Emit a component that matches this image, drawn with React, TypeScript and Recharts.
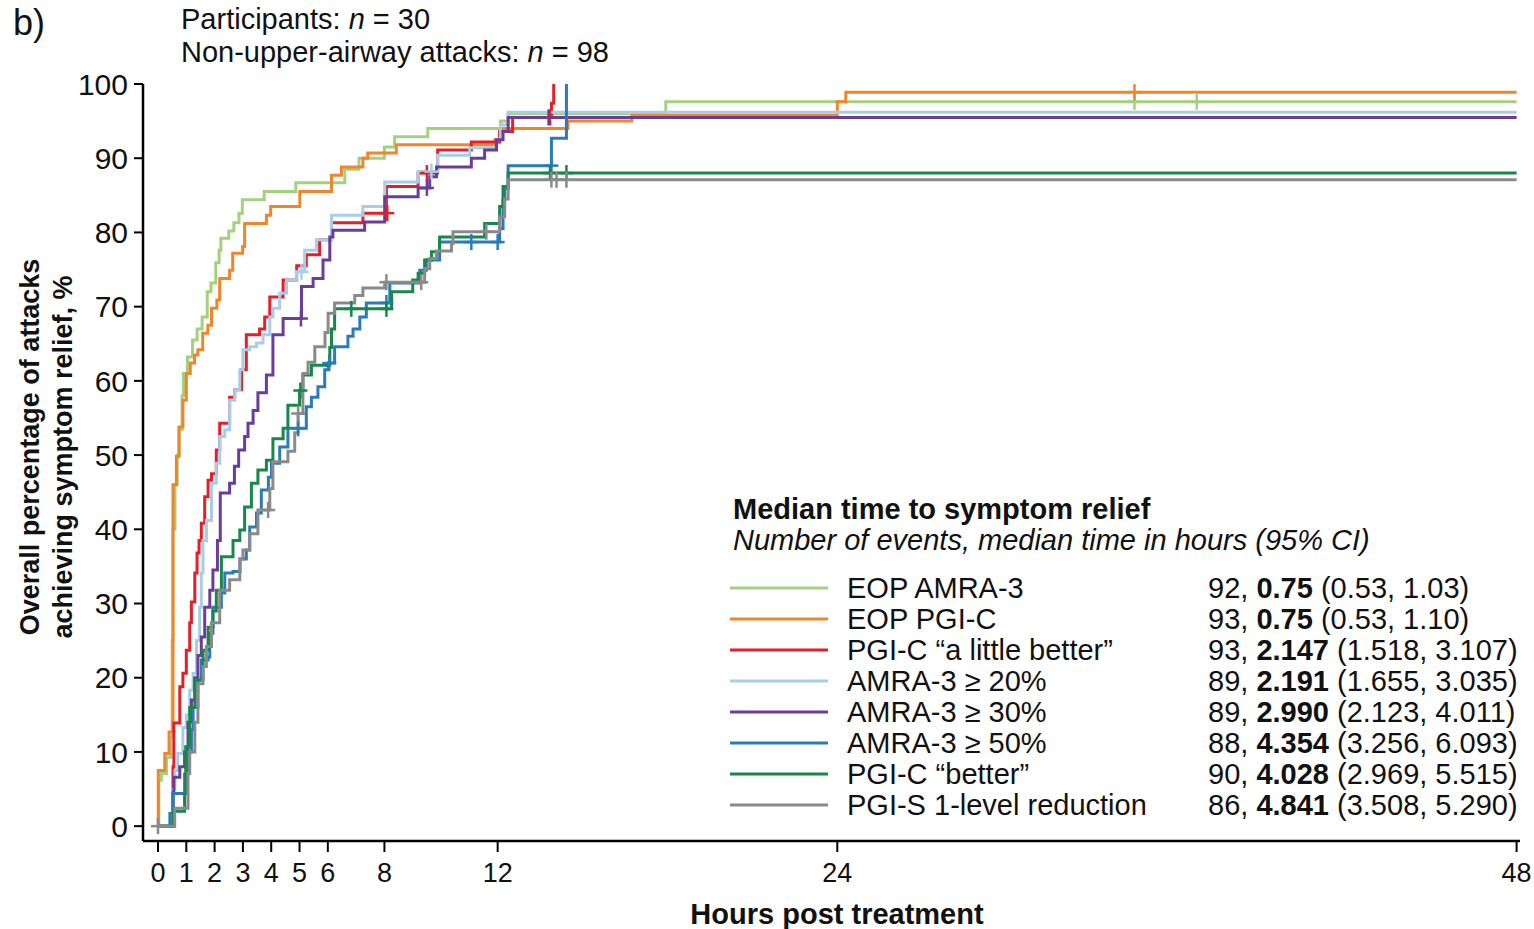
import React from 'react'
import { Line, LineChart, XAxis, YAxis } from 'recharts'

type Pt = [number, number]

// Kaplan-Meier step points: [hours post treatment, cumulative % with relief]
const eopAmra3: Pt[] = [
  [0, 0], [0.03, 6.2], [0.12, 7.1], [0.3, 9.3], [0.45, 12], [0.5, 25], [0.53, 40], [0.6, 46],
  [0.68, 50], [0.75, 53.4], [0.85, 58], [0.9, 61], [1.04, 63.2], [1.22, 65.5], [1.38, 67],
  [1.56, 68.6], [1.74, 72], [1.87, 73.2], [2.04, 75.9], [2.16, 77.6], [2.22, 79.2], [2.5, 80.2],
  [2.68, 81.3], [2.86, 82.6], [2.98, 84.4], [3.75, 85.5], [4.87, 86.7], [6.6, 88.5], [7.1, 90],
  [8.0, 91.5], [8.36, 92.9], [9.53, 94], [12.1, 95], [12.37, 96], [17.94, 97.6], [48, 97.6],
]
const eopPgic: Pt[] = [
  [0, 0], [0.01, 7.5], [0.24, 9.8], [0.39, 12.7], [0.53, 46], [0.65, 49.8], [0.74, 53.8],
  [0.88, 57.4], [1.0, 61], [1.14, 62.4], [1.29, 63.5], [1.41, 64.2], [1.58, 66.4], [1.76, 67.5],
  [1.89, 69.8], [2.08, 70.9], [2.18, 73.8], [2.53, 74.9], [2.64, 77.2], [2.99, 78.1], [3.06, 81.2],
  [3.83, 82.3], [3.98, 83.5], [5.01, 85.5], [6.13, 87.7], [6.48, 88.8], [7.24, 90], [7.41, 90.7],
  [8.42, 91.8], [11.9, 92.5], [12.13, 94], [14.48, 95], [16.74, 95.8], [24.0, 97.6], [24.3, 98.9],
  [48, 98.9],
]
const pgicLittleBetter: Pt[] = [
  [0, 0], [0.53, 8], [0.56, 13.9], [0.77, 18.8], [0.88, 20.6], [1.0, 23.7], [1.12, 27.4],
  [1.18, 30.2], [1.3, 34.1], [1.38, 36.8], [1.45, 38.5], [1.53, 40.8], [1.65, 44.4], [1.77, 46.6],
  [1.89, 47.5], [2.06, 50.7], [2.18, 54.3], [2.53, 57.8], [2.71, 58.8], [2.95, 61.5], [3.12, 66.2],
  [3.59, 67], [3.77, 68.6], [3.95, 71.3], [4.42, 73.6], [4.9, 75.5], [5.24, 77], [5.71, 79],
  [6.13, 81.3], [7.24, 82.6], [8.07, 86.2], [9.19, 88], [9.88, 91.1], [11.07, 92.2], [12.07, 93.6],
  [12.53, 95.5], [13.9, 97.4], [13.98, 100],
]
const amra20: Pt[] = [
  [0, 0], [0.53, 5], [0.6, 7.5], [0.7, 9.8], [0.88, 13.3], [1.0, 15], [1.12, 18.3], [1.24, 20.6],
  [1.36, 25], [1.47, 29.5], [1.53, 34.1], [1.59, 38.5], [1.71, 41.2], [1.89, 46.2], [2.06, 48.9],
  [2.18, 52.5], [2.36, 53.4], [2.53, 57.4], [2.71, 58.8], [2.89, 61.5], [3.0, 64.2], [3.24, 64.6],
  [3.48, 65.1], [3.71, 66.2], [3.95, 68.6], [4.06, 69.8], [4.3, 71.8], [4.54, 73.6], [4.89, 74.7],
  [5.18, 77.6], [5.6, 79], [6.13, 82.3], [7.24, 83.5], [8.01, 86.8], [9.19, 88.2], [9.88, 90.4],
  [11.01, 91.4], [11.96, 92.5], [12.1, 94.5], [12.37, 96.2], [48, 96.2],
]
const amra30: Pt[] = [
  [0, 0], [0.53, 4.5], [0.56, 6.6], [0.77, 8], [0.94, 10], [1.06, 14], [1.18, 17], [1.3, 20],
  [1.41, 23], [1.53, 25.5], [1.65, 29.5], [1.83, 31.8], [1.94, 34.5], [2.1, 38.5], [2.2, 44.9],
  [2.53, 46.2], [2.7, 48.5], [2.85, 50.7], [3.06, 52.5], [3.18, 54.3], [3.36, 56], [3.53, 58.4],
  [3.83, 60.8], [4.06, 66.2], [4.42, 68.4], [5.07, 72.7], [5.48, 73.8], [5.83, 76.3], [6.07, 79.4],
  [6.18, 80.3], [7.3, 81.4], [8.01, 84.8], [9.19, 86], [9.6, 87.5], [9.84, 88.8], [11.07, 90],
  [11.54, 91.1], [11.96, 92.5], [12.19, 93.6], [12.37, 95.5], [48, 95.5],
]
const amra50: Pt[] = [
  [0, 0], [0.42, 1.7], [0.53, 4.4], [0.94, 7], [1.06, 10], [1.18, 13], [1.24, 16], [1.41, 19.7],
  [1.53, 22.4], [1.77, 22.8], [1.83, 26], [1.94, 29.5], [2.24, 31.4], [2.36, 34.1], [2.65, 34.3],
  [2.9, 36], [3.12, 37.2], [3.24, 40.3], [3.48, 42.2], [3.65, 45.3], [3.9, 47], [4.01, 48.9],
  [4.3, 51.1], [4.59, 53.6], [5.24, 56.5], [5.42, 57.8], [5.65, 59.2], [5.89, 61.5], [6.01, 62.4],
  [6.24, 64.6], [6.71, 66], [6.89, 67], [7.13, 68.6], [7.36, 70.5], [8.19, 73.2], [9.25, 74.9],
  [9.48, 76.3], [9.95, 78.7], [12.07, 80.5], [12.19, 84.4], [12.25, 85.9], [12.37, 89],
  [13.9, 92.7], [14.43, 100],
]
const pgicBetter: Pt[] = [
  [0, 0], [0.55, 2], [0.94, 4.4], [0.98, 10.7], [1.12, 16], [1.3, 19.7], [1.59, 23.7], [1.77, 26.8],
  [1.94, 29], [2.06, 31.8], [2.24, 36.3], [2.65, 38.5], [2.89, 39.9], [3.06, 43], [3.3, 46.2],
  [3.53, 48], [3.83, 49.3], [4.06, 52.2], [4.42, 53.6], [4.59, 56.7], [5.0, 58.7], [5.12, 60.8],
  [5.42, 62.1], [6.07, 64.5], [6.13, 67], [6.24, 69.7], [8.25, 72], [9.0, 73.6], [9.19, 74.5],
  [9.42, 76.3], [9.66, 77.4], [9.95, 79.4], [11.54, 81.2], [12.07, 83.5], [12.19, 86.2],
  [12.37, 88], [48, 88],
]
const pgis1Level: Pt[] = [
  [0, 0], [0.59, 2.4], [1.06, 7.1], [1.12, 10], [1.3, 14], [1.41, 19.2], [1.59, 21.5], [1.71, 24.2],
  [1.89, 27.4], [2.18, 31.8], [2.53, 33.2], [2.89, 36], [3.0, 37.2], [3.24, 39.4], [3.53, 42.6],
  [3.95, 45.5], [4.06, 49.1], [4.59, 50.5], [4.83, 53], [4.95, 55.6], [5.12, 61], [5.3, 62.5],
  [5.54, 64.6], [5.9, 66.5], [6.01, 69.1], [6.24, 70.5], [6.95, 71.5], [7.24, 72.5], [8.01, 73.3],
  [9.42, 75.1], [9.6, 76.5], [9.84, 77.5], [10.37, 78.5], [10.42, 80.1], [12.07, 82.1],
  [12.25, 84.5], [12.37, 87.1], [48, 87.1],
]

// censored observations (+)
const eopAmra3Cens: Pt[] = [[34.5, 97.6], [36.7, 97.6]]
const eopPgicCens: Pt[] = [[34.5, 98.9]]
const pgicLittleBetterCens: Pt[] = [[8.1, 82.6], [9.5, 88], [13.85, 95.5]]
const amra20Cens: Pt[] = [[5.07, 74.7], [9.66, 88.2]]
const amra30Cens: Pt[] = [[5.05, 68.4], [9.5, 86], [13.8, 95.5]]
const amra50Cens: Pt[] = [[4.95, 53.6], [6.05, 62.4], [8.07, 70.5], [11.07, 78.7], [12.0, 78.7], [13.9, 89]]
const pgicBetterCens: Pt[] = [[5.03, 58.7], [6.83, 69.7], [8.07, 69.7], [13.85, 88], [14.43, 88]]
const pgis1LevelCens: Pt[] = [
  [0, 0], [3.89, 42.6], [4.95, 55.6], [8.07, 73.3], [9.3, 73.3], [11.6, 80.1], [13.9, 87.1],
  [14.08, 87.1], [14.43, 87.1],
]

const seriesNames = [
  'EOP AMRA-3',
  'EOP PGI-C',
  'PGI-C \u201ca little better\u201d',
  'AMRA-3 \u2265 20%',
  'AMRA-3 \u2265 30%',
  'AMRA-3 \u2265 50%',
  'PGI-C \u201cbetter\u201d',
  'PGI-S 1-level reduction',
]
const seriesColors = ['#a5d17f', '#f0862c', '#e2202a', '#a9cde6', '#6b3d9b', '#2b7bbb', '#16884a', '#8a8a8a']
const seriesPoints = [eopAmra3, eopPgic, pgicLittleBetter, amra20, amra30, amra50, pgicBetter, pgis1Level]
const seriesCensored = [
  eopAmra3Cens, eopPgicCens, pgicLittleBetterCens, amra20Cens,
  amra30Cens, amra50Cens, pgicBetterCens, pgis1LevelCens,
]
const eventCounts = [92, 93, 93, 89, 89, 88, 90, 86]
const medians = ['0.75', '0.75', '2.147', '2.191', '2.990', '4.354', '4.028', '4.841']
const medianCIs = [
  '(0.53, 1.03)', '(0.53, 1.10)', '(1.518, 3.107)', '(1.655, 3.035)',
  '(2.123, 4.011)', '(3.256, 6.093)', '(2.969, 5.515)', '(3.508, 5.290)',
]

const xTicks = [0, 1, 2, 3, 4, 5, 6, 8, 12, 24, 48]
const yTicks = [0, 10, 20, 30, 40, 50, 60, 70, 80, 90, 100]

const W = 1534
const H = 929
const FONT = '"Liberation Sans", Arial, Helvetica, sans-serif'

const toRows = (pts: Pt[]) => pts.map(([t, v]) => ({ t, v }))

function PlusMark({ cx, cy, color }: { cx?: number; cy?: number; color: string }) {
  if (cx == null || cy == null) return null
  return (
    <g>
      <line x1={cx - 7} x2={cx + 7} y1={cy} y2={cy} stroke={color} strokeWidth={2.5} />
      <line x1={cx} x2={cx} y1={cy - 8} y2={cy + 8} stroke={color} strokeWidth={2.5} />
    </g>
  )
}

function Overlay() {
  const rowY = (i: number) => 588 + i * 31
  return (
    <svg
      width={W}
      height={H}
      style={{ position: 'absolute', left: 0, top: 0, pointerEvents: 'none' }}
      fontFamily={FONT}
      fill='#111'
    >
      <text x={13} y={35} fontSize={36}>b)</text>
      <text x={181} y={29} fontSize={29}>
        Participants: <tspan fontStyle='italic'>n</tspan> = 30
      </text>
      <text x={181} y={62} fontSize={29}>
        Non-upper-airway attacks: <tspan fontStyle='italic'>n</tspan> = 98
      </text>

      <g fontWeight='bold' textAnchor='middle'>
        <text fontSize={27} transform='translate(39,447) rotate(-90)'>Overall percentage of attacks</text>
        <text fontSize={27} transform='translate(72,457) rotate(-90)'>achieving symptom relief, %</text>
        <text fontSize={29} x={837} y={924}>Hours post treatment</text>
      </g>

      <text x={733} y={519} fontSize={29} fontWeight='bold'>Median time to symptom relief</text>
      <text x={733} y={550} fontSize={29} fontStyle='italic'>
        Number of events, median time in hours (95% CI)
      </text>
      {seriesNames.map((name, i) => (
        <g key={name}>
          <line x1={730} x2={828} y1={rowY(i)} y2={rowY(i)} stroke={seriesColors[i]} strokeWidth={3} />
          <text x={847} y={rowY(i) + 10} fontSize={29}>{name}</text>
          <text x={1208} y={rowY(i) + 10} fontSize={29}>
            {eventCounts[i]}, <tspan fontWeight='bold'>{medians[i]}</tspan> {medianCIs[i]}
          </text>
        </g>
      ))}
    </svg>
  )
}

export default function App() {
  return (
    <div style={{ position: 'absolute', left: 0, top: 0, width: W, height: H, background: '#fff' }}>
      <LineChart width={W} height={H} margin={{ top: 84, right: 14, left: 73, bottom: 48 }}>
        <XAxis
          type='number'
          dataKey='t'
          domain={[-0.53, 48.12]}
          ticks={xTicks}
          interval={0}
          allowDataOverflow
          height={40}
          tickSize={11}
          tickMargin={11}
          axisLine={{ stroke: '#000', strokeWidth: 2.5 }}
          tickLine={{ stroke: '#000', strokeWidth: 2 }}
          tick={{ fill: '#111', fontSize: 27, fontFamily: FONT }}
        />
        <YAxis
          type='number'
          dataKey='v'
          domain={[-2, 100]}
          ticks={yTicks}
          interval={0}
          allowDataOverflow
          width={70}
          tickSize={9}
          tickMargin={6}
          axisLine={{ stroke: '#000', strokeWidth: 2.5 }}
          tickLine={{ stroke: '#000', strokeWidth: 2 }}
          tick={{ fill: '#111', fontSize: 30, fontFamily: FONT }}
        />
        {seriesNames.map((name, i) => (
          <Line
            key={name}
            name={name}
            data={toRows(seriesPoints[i])}
            dataKey='v'
            type='stepAfter'
            stroke={seriesColors[i]}
            strokeWidth={3}
            dot={false}
            activeDot={false}
            isAnimationActive={false}
          />
        ))}
        {seriesNames.map((name, i) => (
          <Line
            key={`${name}-cens`}
            name={`${name} censored`}
            data={toRows(seriesCensored[i])}
            dataKey='v'
            stroke='none'
            legendType='none'
            activeDot={false}
            isAnimationActive={false}
            dot={(p: any) => (
              <PlusMark key={`${name}-c-${p.index}`} cx={p.cx} cy={p.cy} color={seriesColors[i]} />
            )}
          />
        ))}
      </LineChart>
      <Overlay />
    </div>
  )
}
